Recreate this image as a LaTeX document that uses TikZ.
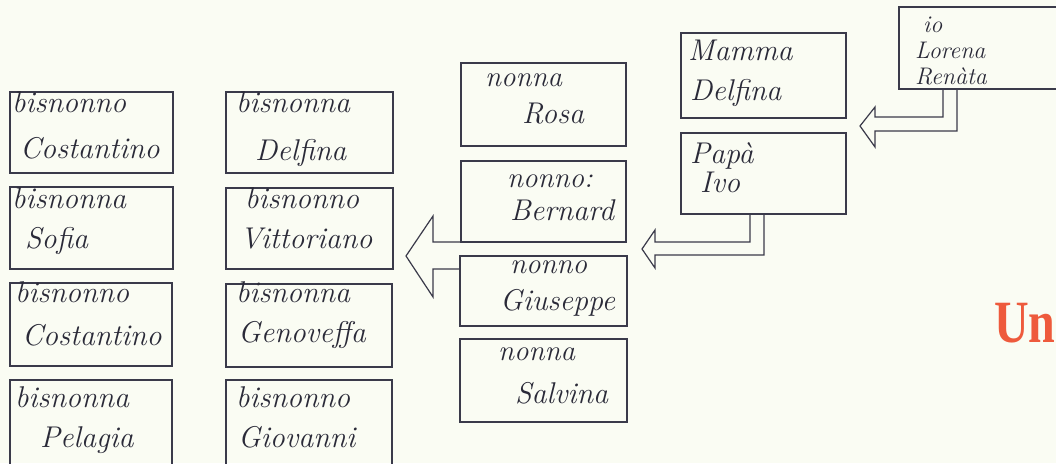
\documentclass[tikz,border=0pt]{standalone}
\usepackage{fontspec}
\newfontfamily\redfont{Liberation Serif}
\usetikzlibrary{calc}
\definecolor{paper}{HTML}{FAFCF3}
\definecolor{ink}{HTML}{3A3A4A}
\definecolor{pen}{HTML}{2A2A38}
\definecolor{redtitle}{HTML}{EE5A3C}
\tikzset{
  box/.style={draw=ink, line width=1.2pt, anchor=north west, inner sep=0pt, outer sep=0pt},
  blockarrow/.style={draw=ink, line width=1.2pt, line join=miter},
  hand/.style={anchor=base west, inner sep=0pt, text=pen, font=\fontsize{30}{32}\selectfont\itshape},
  handsmall/.style={hand, font=\fontsize{29}{30}\selectfont\itshape},
  handio/.style={hand, font=\fontsize{24}{26}\selectfont\itshape},
}
\begin{document}
\begin{tikzpicture}[x=1pt,y=-1pt]
\useasboundingbox (0,0) rectangle (1056,463);
\clip (0,0) rectangle (1056,463);
\fill[paper] (0,0) rectangle (1056,463);

% great-grandparents, first column
\node[box, minimum width=163pt, minimum height=81pt] (b1) at (10,92) {};
\node[box, minimum width=163pt, minimum height=82pt] (b2) at (10,187) {};
\node[box, minimum width=162pt, minimum height=83pt] (b3) at (10,283) {};
\node[box, minimum width=162pt, minimum height=95pt] (b4) at (10,380) {};
% second column
\node[box, minimum width=167pt, minimum height=81pt] (b5) at (226,92) {};
\node[box, minimum width=167pt, minimum height=81pt] (b6) at (226,188) {};
\node[box, minimum width=166pt, minimum height=83pt] (b7) at (226,284) {};
\node[box, minimum width=166pt, minimum height=95pt] (b8) at (226,380) {};
% grandparents
\node[box, minimum width=165pt, minimum height=83pt] (rosa) at (461,63) {};
\node[box, minimum width=165pt, minimum height=81pt] (bernard) at (461,161) {};
\node[box, minimum width=167pt, minimum height=70pt] (giuseppe) at (460,256) {};
\node[box, minimum width=167pt, minimum height=83pt] (salvina) at (460,339) {};
% parents
\node[box, minimum width=165pt, minimum height=85pt] (mamma) at (681,33) {};
\node[box, minimum width=165pt, minimum height=81pt] (papa) at (681,133) {};
% me
\node[box, minimum width=200pt, minimum height=82pt] (io) at (899,7) {};

% texts
\node[hand] (t1a) at (12,112) {bisnonno};
\node[hand] (t1b) at (20,158) {Costantino};
\node[hand] (t2a) at (12,208) {bisnonna};
\node[hand] (t2b) at (25,248) {Sofia};
\node[hand] (t3a) at (15,302) {bisnonno};
\node[hand] (t3b) at (22,345) {Costantino};
\node[hand] (t4a) at (15,407) {bisnonna};
\node[hand] (t4b) at (40,447) {Pelagia};
\node[hand] (t5a) at (236,112) {bisnonna};
\node[hand] (t5b) at (255,160) {Delfina};
\node[hand] (t6a) at (245,208) {bisnonno};
\node[hand] (t6b) at (240,248) {Vittoriano};
\node[hand] (t7a) at (236,302) {bisnonna};
\node[hand] (t7b) at (238,342) {Genoveffa};
\node[hand] (t8a) at (236,407) {bisnonno};
\node[hand] (t8b) at (238,447) {Giovanni};

\node[handsmall] (tra) at (485,86) {nonna};
\node[hand] (trb) at (522,123) {Rosa};
\node[handsmall] (tba) at (507,187) {nonno:};
\node[hand] (tbb) at (510,220) {Bernard};
\node[handsmall] (tga) at (510,273) {nonno};
\node[hand] (tgb) at (500,310) {Giuseppe};
\node[handsmall] (tsa) at (498,360) {nonna};
\node[hand] (tsb) at (515,403) {Salvina};

\node[hand] (tma) at (688,60) {Mamma};
\node[hand] (tmb) at (690,100) {Delfina};
\node[hand] (tpa) at (690,163) {Papà};
\node[hand] (tpb) at (700,192) {Ivo};

\node[handio] (tia) at (923,32) {io};
\node[handio] (tib) at (915,58) {Lorena};
\node[handio] (tic) at (915,84) {Renàta};

% block arrows
\draw[blockarrow] ($(io.south west)+(44,0)$) -- (943,117) -- (875,117) -- (875,107)
   -- (860,126) -- (875,147) -- (875,131) -- (957,131) -- ($(io.south west)+(58,0)$);
\draw[blockarrow] ($(papa.south west)+(69,0)$) -- (750,242) -- (655,242) -- (655,230)
   -- (642,249) -- (655,268) -- (655,255) -- (764,255) -- ($(papa.south west)+(83,0)$);
\draw[blockarrow] (bernard.south west) -- (433,242) -- (433,216) -- (406,256)
   -- (433,297) -- (433,269) -- ($(giuseppe.north west)+(0,13)$);

% red heading fragment
\node[anchor=base west, inner sep=0pt, text=redtitle,
      font=\fontsize{60}{62}\selectfont\redfont\bfseries] (un) at (994,342) {\scalebox{0.8}[1]{Un}};
\end{tikzpicture}
\end{document}
